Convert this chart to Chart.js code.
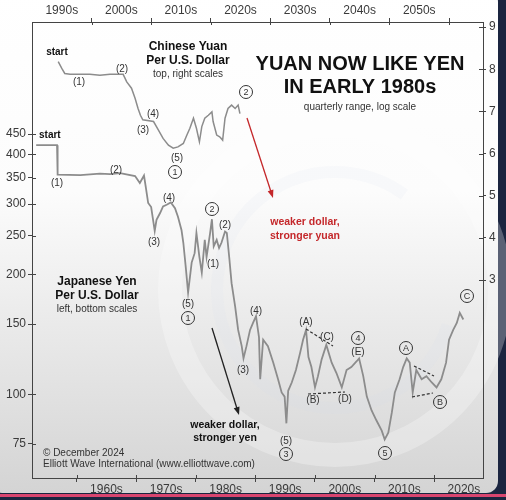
<!DOCTYPE html>
<html>
<head>
<meta charset="utf-8">
<script src="https://cdn.jsdelivr.net/npm/chart.js@4.4.1/dist/chart.umd.min.js"></script>
<style>
  html, body { margin: 0; padding: 0; width: 506px; height: 500px; overflow: hidden; background: #1b2540; }
  #panel { position: absolute; left: -10px; top: -10px; width: 508px; height: 503px; border-radius: 12px;
    background: linear-gradient(#ffffff 0%, #fcfcfc 40%, #ebebeb 65%, #d4d4d4 100%); }
  #pink { position: absolute; left: 0; top: 494px; width: 506px; height: 3px; background: #d8456f; }
  canvas { position: absolute; left: 0; top: 0; }
</style>
</head>
<body>
<div id="panel"></div>
<div id="pink"></div>
<canvas id="chart" width="506" height="500"></canvas>
<script>
// japanese yen per dollar (bottom + left scales)
const yenYears = [1953.2, 1956.7, 1956.8, 1960.6, 1963.9, 1965.6, 1967.3, 1969.8, 1970.6, 1971.3,
  1971.6, 1972.0, 1972.5, 1973.1, 1973.4, 1974.0, 1974.5, 1975.1, 1975.8, 1976.5,
  1977.0, 1977.6, 1977.9, 1978.3, 1978.7, 1979.3, 1979.8, 1980.1, 1980.6, 1981.0,
  1981.5, 1981.8, 1982.4, 1982.7, 1983.0, 1983.5, 1983.9, 1984.3, 1984.9, 1985.2,
  1985.6, 1986.0, 1986.6, 1987.1, 1987.7, 1988.0, 1988.5, 1989.1, 1989.6, 1990.1,
  1990.6, 1990.8, 1991.3, 1992.1, 1993.0, 1993.8, 1994.4, 1994.9, 1995.2, 1995.5,
  1996.1, 1996.8, 1997.5, 1998.0, 1998.5, 1998.9, 1999.4, 2000.0, 2000.5, 2001.1,
  2001.9, 2002.8, 2003.6, 2004.5, 2005.3, 2006.1, 2007.0, 2007.4, 2008.1, 2008.7,
  2009.5, 2010.3, 2011.2, 2011.7, 2012.3, 2012.9, 2013.4, 2014.2, 2014.8, 2015.4,
  2015.9, 2016.4, 2017.0, 2017.9, 2018.7, 2019.6, 2020.4, 2021.2, 2022.0, 2022.5,
  2023.2, 2023.8, 2024.3, 2024.9];
const yenValues = [422, 422, 356, 355, 358, 357, 359, 353, 339, 354,
  331, 302, 295, 257, 274, 285, 296, 299, 303, 293,
  279, 258, 240, 209, 180, 214, 226, 254, 221, 202,
  244, 221, 254, 275, 235, 244, 233, 240, 256, 254,
  221, 190, 166, 145, 132, 123, 132, 145, 151, 157,
  139, 109, 137, 132, 120, 109, 101, 98.6, 84.5, 102,
  107, 115, 127, 137, 145, 124, 117, 104, 111, 122,
  133, 120, 113, 104, 115, 117, 121, 123, 111, 98.6,
  91, 86, 81, 77, 80, 90, 101, 109, 117, 123,
  120, 101, 115, 109, 111, 107, 104, 109, 120, 137,
  145, 151, 160, 154];

// chinese yuan per dollar (top + right scales)
const yuanYears = [1994.4, 1995.0, 1995.5, 1996.4, 1999.7, 2001.4, 2003.1, 2005.3, 2005.9, 2006.7,
  2007.3, 2007.8, 2008.2, 2008.6, 2010.4, 2011.2, 2012.0, 2012.9, 2013.7, 2014.5,
  2015.4, 2016.0, 2016.5, 2017.1, 2017.6, 2018.1, 2018.5, 2019.0, 2019.6, 2020.2,
  2020.4, 2021.0, 2021.5, 2022.0, 2022.4, 2022.9, 2023.5, 2024.1, 2024.6, 2024.9];
const yuanValues = [8.18, 8.02, 7.90, 7.88, 7.88, 7.86, 7.88, 7.88, 7.70, 7.55,
  7.31, 7.07, 6.91, 6.80, 6.76, 6.56, 6.36, 6.20, 6.13, 6.16,
  6.24, 6.44, 6.60, 6.84, 6.60, 6.28, 6.64, 6.84, 6.91, 6.99,
  6.76, 6.44, 6.40, 6.32, 6.84, 7.07, 7.15, 7.07, 7.15, 6.95];

const yenTicks = [75, 100, 150, 200, 250, 300, 350, 400, 450];
const yuanTicks = [3, 4, 5, 6, 7, 8, 9];
const bottomDecades = [1960, 1970, 1980, 1990, 2000, 2010, 2020];
const bottomLabels = ['1960s', '1970s', '1980s', '1990s', '2000s', '2010s', '2020s'];
const topDecades = [2000, 2010, 2020, 2030, 2040, 2050, 2060];
const topLabels = ['1990s', '2000s', '2010s', '2020s', '2030s', '2040s', '2050s'];

const FONT = "'Liberation Sans', Arial, sans-serif";
const AXIS = '#444';
const tickFont = { family: FONT, size: 12 };

function decadeAxis(decades, labels, pos, min, max) {
  const mids = labels.map(l => parseInt(l) + 5);
  return {
    type: 'linear', position: pos, min: min, max: max,
    afterBuildTicks: s => { s.ticks = decades.concat(mids).sort((a, b) => a - b).map(v => ({ value: v })); },
    ticks: {
      autoSkip: false, maxRotation: 0, padding: 0, font: tickFont, color: '#3a3a3a',
      callback: v => { const i = mids.indexOf(v); return i >= 0 ? labels[i] : ''; }
    },
    grid: {
      drawOnChartArea: false, tickLength: 4,
      tickColor: c => (c.tick && decades.includes(c.tick.value)) ? AXIS : 'rgba(0,0,0,0)'
    },
    border: { color: AXIS, width: 1 },
    afterFit: s => { s.height = 22; }
  };
}

// wave labels and notes, placed in canvas pixels
const parenLabels = [
  ['(1)', 79, 82], ['(2)', 122, 69], ['(4)', 153, 114], ['(3)', 143, 130], ['(5)', 177, 158],
  ['(1)', 57, 183], ['(2)', 116, 170], ['(3)', 154, 242], ['(4)', 169, 198], ['(2)', 225, 225],
  ['(1)', 213, 264], ['(5)', 188, 304], ['(4)', 256, 311], ['(3)', 243, 370], ['(5)', 286, 441],
  ['(A)', 306, 322], ['(C)', 327, 337], ['(E)', 358, 352], ['(B)', 313, 400], ['(D)', 345, 399]
];
const circleLabels = [
  ['1', 175, 172], ['2', 246, 92], ['2', 212, 209], ['1', 188, 318], ['3', 286, 454],
  ['4', 358, 338], ['5', 385, 453], ['A', 406, 348], ['B', 440, 402], ['C', 467, 296]
];
const dashedLines = [
  [306, 329, 333, 346], [308, 394, 345, 392], [414, 366, 434, 376], [412, 397, 433, 393]
];

const notes = {
  id: 'notes',
  beforeDraw(chart) {
    // faint swirl watermark behind everything
    const ctx = chart.ctx;
    ctx.save();
    ctx.lineWidth = 24;
    ctx.strokeStyle = 'rgba(255,255,255,0.28)';
    ctx.beginPath(); ctx.arc(335, 290, 165, 0, Math.PI * 2); ctx.stroke();
    ctx.lineWidth = 12;
    ctx.strokeStyle = 'rgba(215,222,235,0.12)';
    ctx.beginPath(); ctx.arc(335, 290, 118, 0.3, Math.PI * 1.7); ctx.stroke();
    ctx.restore();
  },
  afterDraw(chart) {
    const ctx = chart.ctx;
    const sc = chart.scales;
    ctx.save();
    // inner halves of tick marks
    ctx.strokeStyle = AXIS; ctx.lineWidth = 1;
    ctx.beginPath();
    bottomDecades.forEach(v => { const x = Math.round(sc.x.getPixelForValue(v)) + 0.5; ctx.moveTo(x, sc.x.top); ctx.lineTo(x, sc.x.top - 3); });
    topDecades.forEach(v => { const x = Math.round(sc.x2.getPixelForValue(v)) + 0.5; ctx.moveTo(x, sc.x2.bottom); ctx.lineTo(x, sc.x2.bottom + 3); });
    yenTicks.forEach(v => { const y = Math.round(sc.y.getPixelForValue(v)) + 0.5; ctx.moveTo(sc.y.right, y); ctx.lineTo(sc.y.right + 4, y); });
    yuanTicks.forEach(v => { const y = Math.round(sc.y2.getPixelForValue(v)) + 0.5; ctx.moveTo(sc.y2.left, y); ctx.lineTo(sc.y2.left - 4, y); });
    ctx.stroke();

    ctx.textAlign = 'center'; ctx.textBaseline = 'middle';
    ctx.fillStyle = '#111';
    ctx.font = 'bold 20px ' + FONT;
    ctx.fillText('YUAN NOW LIKE YEN', 360, 64);
    ctx.fillText('IN EARLY 1980s', 360, 87);
    ctx.font = '10px ' + FONT; ctx.fillStyle = '#333';
    ctx.fillText('quarterly range, log scale', 360, 107);

    ctx.fillStyle = '#111';
    ctx.font = 'bold 12px ' + FONT;
    ctx.fillText('Chinese Yuan', 188, 47);
    ctx.fillText('Per U.S. Dollar', 188, 61);
    ctx.fillText('Japanese Yen', 97, 282);
    ctx.fillText('Per U.S. Dollar', 97, 296);
    ctx.font = '10px ' + FONT; ctx.fillStyle = '#333';
    ctx.fillText('top, right scales', 188, 74);
    ctx.fillText('left, bottom scales', 97, 309);

    ctx.font = 'bold 10px ' + FONT; ctx.fillStyle = '#111';
    ctx.fillText('start', 57, 52);
    ctx.textAlign = 'left';
    ctx.fillText('start', 39, 135);
    ctx.textAlign = 'center';

    ctx.font = 'bold 10.5px ' + FONT;
    ctx.fillStyle = '#c4272a';
    ctx.fillText('weaker dollar,', 305, 222);
    ctx.fillText('stronger yuan', 305, 236);
    ctx.fillStyle = '#111';
    ctx.fillText('weaker dollar,', 225, 425);
    ctx.fillText('stronger yen', 225, 438);

    ctx.font = '10px ' + FONT; ctx.fillStyle = '#333';
    parenLabels.forEach(([t, x, y]) => ctx.fillText(t, x, y));
    ctx.lineWidth = 1; ctx.strokeStyle = '#333';
    ctx.font = '9px ' + FONT;
    circleLabels.forEach(([t, x, y]) => {
      ctx.beginPath(); ctx.arc(x, y, 6.5, 0, Math.PI * 2); ctx.stroke();
      ctx.fillText(t, x, y + 0.5);
    });

    ctx.setLineDash([3, 2]); ctx.lineWidth = 1.2;
    dashedLines.forEach(([x1, y1, x2, y2]) => { ctx.beginPath(); ctx.moveTo(x1, y1); ctx.lineTo(x2, y2); ctx.stroke(); });
    ctx.setLineDash([]);

    arrow(ctx, 247, 118, 273, 198, '#c4272a');
    arrow(ctx, 212, 328, 239, 415, '#222');

    ctx.textAlign = 'left';
    ctx.font = '10px ' + FONT; ctx.fillStyle = '#333';
    ctx.fillText('\u00a9 December 2024', 43, 453);
    ctx.fillText('Elliott Wave International (www.elliottwave.com)', 43, 464);
    ctx.restore();
  }
};

function arrow(ctx, x1, y1, x2, y2, color) {
  const a = Math.atan2(y2 - y1, x2 - x1);
  ctx.strokeStyle = color; ctx.fillStyle = color; ctx.lineWidth = 1.3;
  ctx.beginPath(); ctx.moveTo(x1, y1); ctx.lineTo(x2 - 5 * Math.cos(a), y2 - 5 * Math.sin(a)); ctx.stroke();
  ctx.beginPath();
  ctx.moveTo(x2, y2);
  ctx.lineTo(x2 - 8 * Math.cos(a) + 3 * Math.sin(a), y2 - 8 * Math.sin(a) - 3 * Math.cos(a));
  ctx.lineTo(x2 - 8 * Math.cos(a) - 3 * Math.sin(a), y2 - 8 * Math.sin(a) + 3 * Math.cos(a));
  ctx.closePath(); ctx.fill();
}

new Chart(document.getElementById('chart'), {
  type: 'line',
  data: {
    datasets: [{
      label: 'Japanese Yen',
      data: yenYears.map((x, i) => ({ x: x, y: yenValues[i] })),
      xAxisID: 'x', yAxisID: 'y',
      borderColor: '#8c8c8c', borderWidth: 1.8, pointRadius: 0, tension: 0
    }, {
      label: 'Chinese Yuan',
      data: yuanYears.map((x, i) => ({ x: x, y: yuanValues[i] })),
      xAxisID: 'x2', yAxisID: 'y2',
      borderColor: '#8c8c8c', borderWidth: 1.5, pointRadius: 0, tension: 0
    }]
  },
  options: {
    responsive: false, devicePixelRatio: 1, animation: false,
    layout: { padding: 0 },
    plugins: { legend: { display: false }, tooltip: { enabled: false } },
    scales: {
      x: decadeAxis(bottomDecades, bottomLabels, 'bottom', 1952.5, 2028.2),
      x2: decadeAxis(topDecades, topLabels, 'top', 1990, 2065.7),
      y: {
        type: 'logarithmic', position: 'left', min: 61.6, max: 860,
        afterBuildTicks: s => { s.ticks = yenTicks.map(v => ({ value: v })); },
        ticks: { autoSkip: false, padding: 2, font: tickFont, color: '#3a3a3a', callback: v => String(v) },
        grid: { drawOnChartArea: false, tickLength: 4, tickColor: AXIS },
        border: { color: AXIS, width: 1 },
        afterFit: s => { s.width = 32; }
      },
      y2: {
        type: 'linear', position: 'right', min: -1.69, max: 9.12,
        afterBuildTicks: s => { s.ticks = yuanTicks.map(v => ({ value: v })); },
        ticks: { autoSkip: false, padding: 3, font: tickFont, color: '#3a3a3a', callback: v => String(v) },
        grid: { drawOnChartArea: false, tickLength: 3, tickColor: AXIS },
        border: { color: AXIS, width: 1 },
        afterFit: s => { s.width = 23; }
      }
    }
  },
  plugins: [notes]
});
</script>
</body>
</html>
